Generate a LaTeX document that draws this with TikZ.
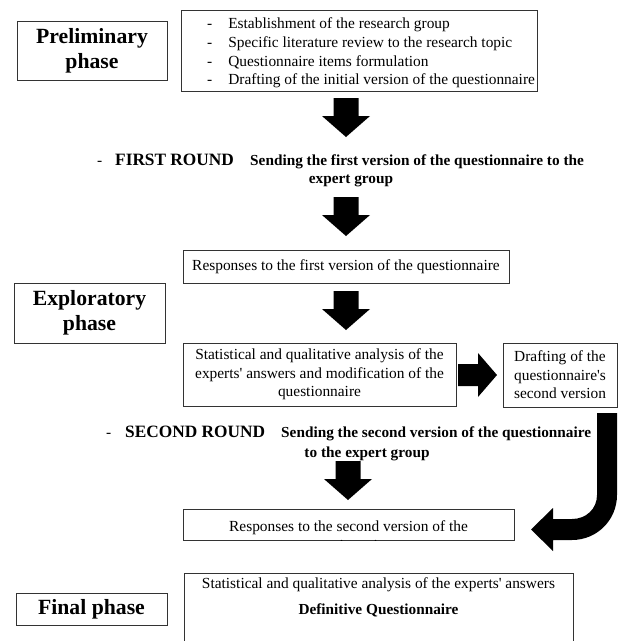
\documentclass[tikz,border=0pt]{standalone}
\usepackage{fontspec}
\setmainfont{Liberation Serif}
\newcommand{\sq}{\textquotesingle}
\begin{document}
\begin{tikzpicture}[x=1pt,y=-1pt,
  box/.style={draw=black!80, line width=0.9pt, inner sep=0pt, align=center},
  reg/.style={font=\fontsize{15.4}{18.6}\selectfont},
  phasebox/.style={box, font=\fontsize{21.7}{25}\selectfont\bfseries},
  roundlbl/.style={inner sep=0pt, font=\fontsize{17.3}{20}\selectfont\bfseries},
  sendlbl/.style={inner sep=0pt, font=\fontsize{15.3}{18.5}\selectfont\bfseries},
  downarr/.pic={\fill[black] (-12.5,0) -- (12.5,0) -- (12.5,18) -- (24,18) -- (0,39) -- (-24,18) -- (-12.5,18) -- cycle;}
]
\clip (0,0) rectangle (621,641);
\fill[white] (0,0) rectangle (621,641);

% Preliminary phase
\node[phasebox, minimum width=150pt, minimum height=59pt] (prelim) at (92,50.5) {Preliminary\\phase};
\node[box, minimum width=356pt, minimum height=81pt] (listbox) at (359,50.5) {};
\node[reg, inner sep=0pt, anchor=west] (listtxt) at (207,53) {\begin{tabular}{@{}l@{\hspace{16pt}}l@{}}-&Establishment of the research group\\ -&Specific literature review to the research topic\\ -&Questionnaire items formulation\\ -&Drafting of the initial version of the questionnaire\end{tabular}};

\pic at (346,98) {downarr};

% First round
\node[reg, inner sep=0pt, anchor=base west] (dash1) at (97,165) {-};
\node[roundlbl, anchor=base west] (r1) at (115,165) {FIRST ROUND};
\node[sendlbl, anchor=base west] (s1) at (250,165) {Sending the first version of the questionnaire to the};
\node[sendlbl, anchor=base] (s1b) at (351,183) {expert group};

\pic at (346,197) {downarr};

\node[box, reg, minimum width=326pt, minimum height=33pt] (resp1) at (346,266.5) {Responses to the first version of the questionnaire};

% Exploratory phase
\node[phasebox, minimum width=151pt, minimum height=60pt] (explor) at (89.5,313) {Exploratory\\phase};

\pic at (346,291) {downarr};

\node[box, reg, minimum width=273pt, minimum height=63pt] (stat) at (319.5,374.5) {Statistical and qualitative analysis of the\\experts\sq{} answers and modification of the\\questionnaire};
\node[box, reg, minimum width=114pt, minimum height=64pt] (draft) at (560,375) {Drafting of the\\questionnaire\sq s\\second version};

\fill[black] (458,364) -- (478,364) -- (478,353) -- (497,375) -- (478,397) -- (478,386) -- (458,386) -- cycle;

% Second round
\node[reg, inner sep=0pt, anchor=base west] (dash2) at (106,437) {-};
\node[roundlbl, anchor=base west] (r2) at (125,437) {SECOND ROUND};
\node[sendlbl, anchor=base west] (s2) at (281,437) {Sending the second version of the questionnaire};
\node[sendlbl, anchor=base] (s2b) at (367,457) {to the expert group};

% J-shaped arrow
\fill[black] (597,413) -- (617,413) -- (617,495) .. controls (617,520) and (597,540) .. (572,540) -- (553,540) -- (553,551) -- (531,529.5) -- (553,508) -- (553,519) -- (572,519) .. controls (586,519) and (597,509) .. (597,495) -- cycle;

\pic at (348,461) {downarr};

\node[box, minimum width=331pt, minimum height=31pt] (resp2) at (348.5,524.5) {};
\begin{scope}
\clip (resp2.south west) rectangle (resp2.north east);
\node[reg, inner sep=0pt, align=center] (resp2t) at (348.5,537) {Responses to the second version of the\\questionnaire};
\end{scope}

% Final phase
\node[phasebox, minimum width=151pt, minimum height=32pt] (final) at (91.5,609) {Final phase};
\node[box, minimum width=389pt, minimum height=87pt] (finalbox) at (378.5,616.5) {};
\node[reg, inner sep=0pt] (fin1) at (378.5,585) {Statistical and qualitative analysis of the experts\sq{} answers};
\node[sendlbl] (fin2) at (378.5,610) {Definitive Questionnaire};
\end{tikzpicture}
\end{document}
